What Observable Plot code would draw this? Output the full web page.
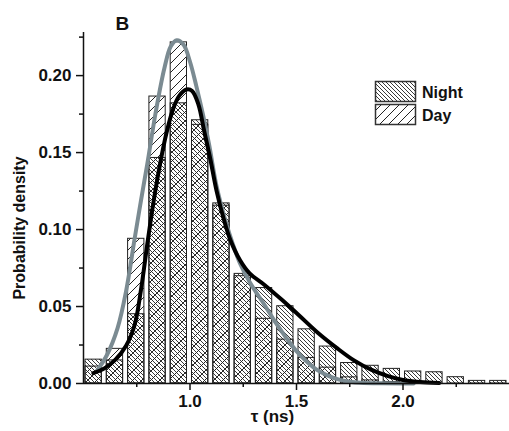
<!DOCTYPE html>
<html><head><meta charset="utf-8">
<script src="https://cdn.jsdelivr.net/npm/d3@7"></script>
<script src="https://cdn.jsdelivr.net/npm/@observablehq/plot@0.6"></script>
<style>body{margin:0;background:#fff}</style>
</head><body><div id="chart"></div>
<script>
// histogram bins (τ, ns)
const binLo = [0.5,0.6,0.7,0.8,0.9,1.0,1.1,1.2,1.3,1.4,1.5,1.6,1.7,1.8,1.9,2.0,2.1,2.2,2.3,2.4];
const binHi = [0.6,0.7,0.8,0.9,1.0,1.1,1.2,1.3,1.4,1.5,1.6,1.7,1.8,1.9,2.0,2.1,2.2,2.3,2.4,2.5];
const nightDensity = [0.0155,0.015,0.045,0.1465,0.182,0.171,0.117,0.0712,0.062,0.0502,0.0352,0.024,0.0133,0.0115,0.0095,0.0078,0.0073,0.0041,0.0017,0.0017];
const dayDensity   = [0.011,0.0225,0.094,0.1864,0.2216,0.168,0.1155,0.0697,0.042,0.0285,0.0166,0.0103,0.004,0.002,0.001,0,0,0,0,0];

// fitted curves
const nightFitTau = [0.546,0.60,0.65,0.70,0.74,0.77,0.80,0.83,0.86,0.89,0.92,0.95,0.984,1.01,1.04,1.065,1.095,1.125,1.16,1.19,1.235,1.28,1.35,1.43,1.51,1.60,1.69,1.77,1.85,1.93,2.0,2.08,2.17];
const nightFitVal = [0.0067,0.010,0.0155,0.0245,0.038,0.061,0.091,0.119,0.143,0.163,0.178,0.187,0.191,0.190,0.181,0.165,0.146,0.125,0.106,0.093,0.080,0.0715,0.064,0.0545,0.0445,0.033,0.023,0.015,0.009,0.0048,0.0023,0.001,0.0003];
const dayFitTau = [0.562,0.61,0.66,0.70,0.74,0.77,0.80,0.84,0.88,0.91,0.938,0.97,1.0,1.03,1.062,1.09,1.125,1.17,1.20,1.235,1.28,1.35,1.40,1.45,1.50,1.55,1.60,1.65,1.70,1.75,1.80,1.90,2.05];
const dayFitVal = [0.008,0.0185,0.036,0.060,0.094,0.119,0.143,0.177,0.205,0.219,0.223,0.220,0.209,0.193,0.174,0.155,0.128,0.104,0.091,0.078,0.066,0.051,0.040,0.030,0.021,0.014,0.0085,0.005,0.0025,0.0012,0.0005,0.0001,0];

const yTicks = [0,0.05,0.10,0.15,0.20];
const yMinorTicks = [0.025,0.075,0.125,0.175,0.225];
const xTicks = [1.0,1.5,2.0];
const xMinorTicks = [0.75,1.25,1.75,2.25];
const legendLabels = ["Night","Day"];

const bins = binLo.map((lo,i)=>({lo, hi: binHi[i], night: nightDensity[i], day: dayDensity[i]}));
const nightFit = nightFitTau.map((t,i)=>({t, v: nightFitVal[i]}));
const dayFit = dayFitTau.map((t,i)=>({t, v: dayFitVal[i]}));

const font = "'Liberation Sans', Arial, Helvetica, sans-serif";
const plot = Plot.plot({
  width: 509, height: 431,
  marginLeft: 83, marginRight: 0, marginTop: 32, marginBottom: 48,
  style: {fontFamily: font, fontSize: "17px", fontWeight: "bold", color: "#111", background: "#fff"},
  x: {domain: [0.5, 2.5]},
  y: {domain: [0, 0.228]},
  marks: [
    Plot.rect(bins, {x1: "lo", x2: "hi", y1: 0, y2: "day", fill: "url(#hatchDay)", stroke: "#222", strokeWidth: 1, insetLeft: 2, insetRight: 3}),
    Plot.rect(bins, {x1: "lo", x2: "hi", y1: 0, y2: "night", fill: "url(#hatchNight)", stroke: "#222", strokeWidth: 1, insetLeft: 2, insetRight: 3}),
    Plot.line(dayFit, {x: "t", y: "v", stroke: "#7b8b92", strokeWidth: 4, curve: "catmull-rom"}),
    Plot.line(nightFit, {x: "t", y: "v", stroke: "#000", strokeWidth: 4, curve: "catmull-rom"}),
    Plot.ruleY([0], {stroke: "#111", strokeWidth: 1.5}),
    Plot.ruleX([0.5], {stroke: "#111", strokeWidth: 1.5}),
    Plot.axisY({ticks: yTicks, tickFormat: d3.format(".2f"), tickSize: 7, tickPadding: 5, strokeWidth: 1.5, fontSize: 17, label: null}),
    Plot.axisY({ticks: yMinorTicks, tickFormat: () => "", tickSize: 4, strokeWidth: 1.5, label: null}),
    Plot.axisX({ticks: xTicks, tickFormat: d3.format(".1f"), tickSize: 7, tickPadding: 4, strokeWidth: 1.5, fontSize: 17, label: null}),
    Plot.axisX({ticks: xMinorTicks, tickFormat: () => "", tickSize: 4, strokeWidth: 1.5, label: null}),
    Plot.text(["Probability density"], {text: d => d, frameAnchor: "left", textAnchor: "middle", rotate: -90, dx: -64, dy: 20, fontSize: 16, lineAnchor: "middle"}),
    Plot.text(["τ (ns)"], {text: d => d, frameAnchor: "bottom", textAnchor: "middle", dx: -24, dy: 33, fontSize: 17, lineAnchor: "middle"}),
    Plot.text(["B"], {text: d => d, frameAnchor: "top-left", textAnchor: "start", lineAnchor: "bottom", dx: 32, dy: -3, fontSize: 19})
  ]
});

const svg = d3.select(plot);
const defs = svg.insert("defs", ":first-child");
const pn = defs.append("pattern").attr("id", "hatchNight").attr("patternUnits", "userSpaceOnUse").attr("width", 4).attr("height", 4);
pn.append("path").attr("d", "M-1,-1L5,5M3,-1L5,1M-1,3L1,5").attr("stroke", "#222").attr("stroke-width", 0.9).attr("fill", "none");
const pd = defs.append("pattern").attr("id", "hatchDay").attr("patternUnits", "userSpaceOnUse").attr("width", 9).attr("height", 9);
pd.append("rect").attr("width", 9).attr("height", 9).attr("fill", "#fff");
pd.append("path").attr("d", "M-1,10L10,-1M-1,1L1,-1M8,10L10,8").attr("stroke", "#222").attr("stroke-width", 1).attr("fill", "none");

// legend inside the plot
const lg = svg.append("g").attr("font-family", font).attr("font-size", 16).attr("font-weight", "bold")
  .attr("fill", "#111").attr("text-anchor", "start");
legendLabels.forEach((name, i) => {
  const y0 = 81 + i * 23;
  lg.append("rect").attr("x", 375.5).attr("y", y0 + 0.5).attr("width", 40).attr("height", 20)
    .attr("fill", "#fff").attr("stroke", "none");
  lg.append("rect").attr("x", 375.5).attr("y", y0 + 0.5).attr("width", 40).attr("height", 20)
    .attr("fill", i === 0 ? "url(#hatchNight)" : "url(#hatchDay)").attr("stroke", "#333").attr("stroke-width", 1.5);
  lg.append("text").attr("x", 422).attr("y", y0 + 17).attr("text-anchor", "start").text(name);
});

document.getElementById("chart").appendChild(plot);
</script>
</body></html>
